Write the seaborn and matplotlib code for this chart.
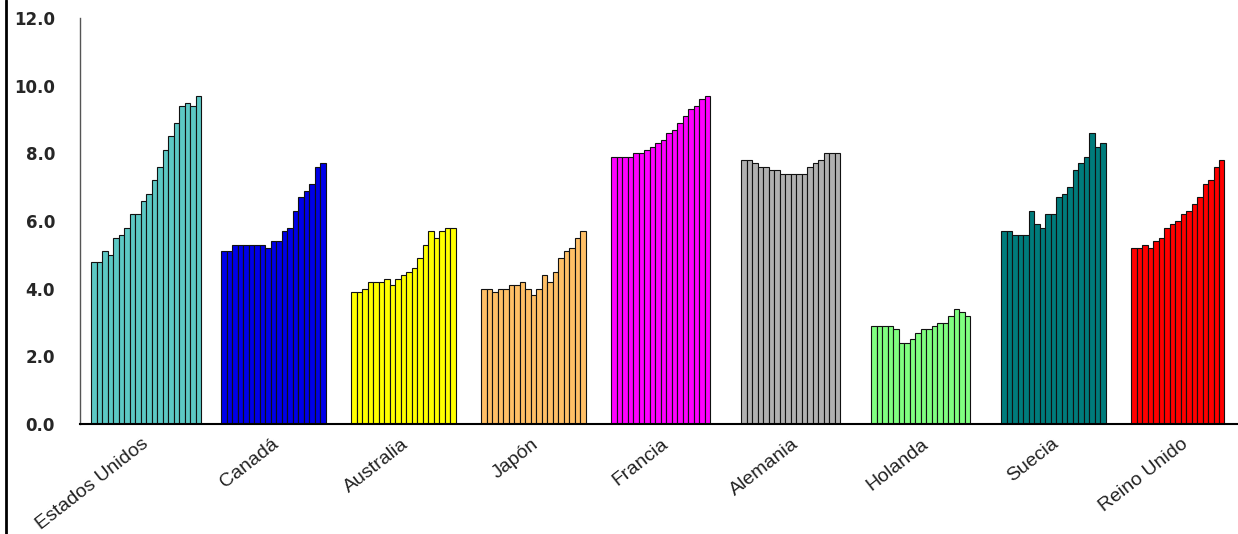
import numpy as np
import pandas as pd
import matplotlib.pyplot as plt
import seaborn as sns
from matplotlib.lines import Line2D

# Valores (un valor por anio, hasta 20 anios por pais)
paises = ['Estados Unidos', 'Canadá', 'Australia', 'Japón', 'Francia',
          'Alemania', 'Holanda', 'Suecia', 'Reino Unido']
colores = ['#5CC8C4', '#0000E8', '#FFFF00', '#FFBF66', '#FF00FF',
           '#B0B0B0', '#80FF80', '#007B7B', '#FF0000']

estados_unidos = [4.8, 4.8, 5.1, 5.0, 5.5, 5.6, 5.8, 6.2, 6.2, 6.6,
                  6.8, 7.2, 7.6, 8.1, 8.5, 8.9, 9.4, 9.5, 9.4, 9.7]
canada = [5.1, 5.1, 5.3, 5.3, 5.3, 5.3, 5.3, 5.3, 5.2, 5.4,
          5.4, 5.7, 5.8, 6.3, 6.7, 6.9, 7.1, 7.6, 7.7]
australia = [3.9, 3.9, 4.0, 4.2, 4.2, 4.2, 4.3, 4.1, 4.3, 4.4,
             4.5, 4.6, 4.9, 5.3, 5.7, 5.5, 5.7, 5.8, 5.8]
japon = [4.0, 4.0, 3.9, 4.0, 4.0, 4.1, 4.1, 4.2, 4.0, 3.8,
         4.0, 4.4, 4.2, 4.5, 4.9, 5.1, 5.2, 5.5, 5.7]
francia = [7.9, 7.9, 7.9, 7.9, 8.0, 8.0, 8.1, 8.2, 8.3, 8.4,
           8.6, 8.7, 8.9, 9.1, 9.3, 9.4, 9.6, 9.7]
alemania = [7.8, 7.8, 7.7, 7.6, 7.6, 7.5, 7.5, 7.4, 7.4, 7.4,
            7.4, 7.4, 7.6, 7.7, 7.8, 8.0, 8.0, 8.0]
holanda = [2.9, 2.9, 2.9, 2.9, 2.8, 2.4, 2.4, 2.5, 2.7, 2.8,
           2.8, 2.9, 3.0, 3.0, 3.2, 3.4, 3.3, 3.2]
suecia = [5.7, 5.7, 5.6, 5.6, 5.6, 6.3, 5.9, 5.8, 6.2, 6.2,
          6.7, 6.8, 7.0, 7.5, 7.7, 7.9, 8.6, 8.2, 8.3]
reino_unido = [5.2, 5.2, 5.3, 5.2, 5.4, 5.5, 5.8, 5.9, 6.0, 6.2,
               6.3, 6.5, 6.7, 7.1, 7.2, 7.6, 7.8]

series = [estados_unidos, canada, australia, japon, francia,
          alemania, holanda, suecia, reino_unido]
n_anios = 20

filas = []
for pais, vals in zip(paises, series):
    for i, v in enumerate(vals):
        filas.append({'pais': pais, 'anio': i, 'valor': v})
df = pd.DataFrame(filas)

sns.set_style('white')
plt.rcParams['font.family'] = ['Liberation Sans', 'DejaVu Sans']

fig = plt.figure(figsize=(12.38, 5.34), dpi=100)
ax = fig.add_axes([80 / 1238, 110 / 534, 1 - 80 / 1238, 406 / 534])

sns.barplot(data=df, x='pais', y='valor', hue='anio', order=paises,
            hue_order=list(range(n_anios)), width=0.846, dodge=True,
            errorbar=None, legend=False, saturation=1,
            edgecolor='#111111', linewidth=0.8, ax=ax)

# cada barra toma el color de su pais
for p in ax.patches:
    k = int(round(p.get_x() + p.get_width() / 2))
    p.set_facecolor(colores[k])

ax.set_ylim(0, 12)
ax.set_xlim(-0.51, 8.4)
ax.set_yticks(np.arange(0, 13, 2))
ax.set_yticklabels([f'{v:.1f}' for v in np.arange(0, 13, 2)],
                   fontweight='bold', fontsize=12, family='DejaVu Sans')
ax.tick_params(axis='y', length=0, pad=18)
ax.tick_params(axis='x', length=0, pad=13)
ax.set_xticks(range(len(paises)))
ax.set_xticklabels(paises, rotation=38, ha='right', va='center',
                   rotation_mode='anchor', fontsize=14, color='#222222')
ax.set_xlabel('')
ax.set_ylabel('')

for s in ['top', 'right']:
    ax.spines[s].set_visible(False)
ax.spines['left'].set_color('#555555')
ax.spines['left'].set_linewidth(1.0)
ax.spines['bottom'].set_color('black')
ax.spines['bottom'].set_linewidth(1.5)

# borde negro a la izquierda de la imagen
fig.add_artist(Line2D([6 / 1238, 6 / 1238], [0, 1], color='black', lw=2))

fig.savefig('out.png', dpi=100)
